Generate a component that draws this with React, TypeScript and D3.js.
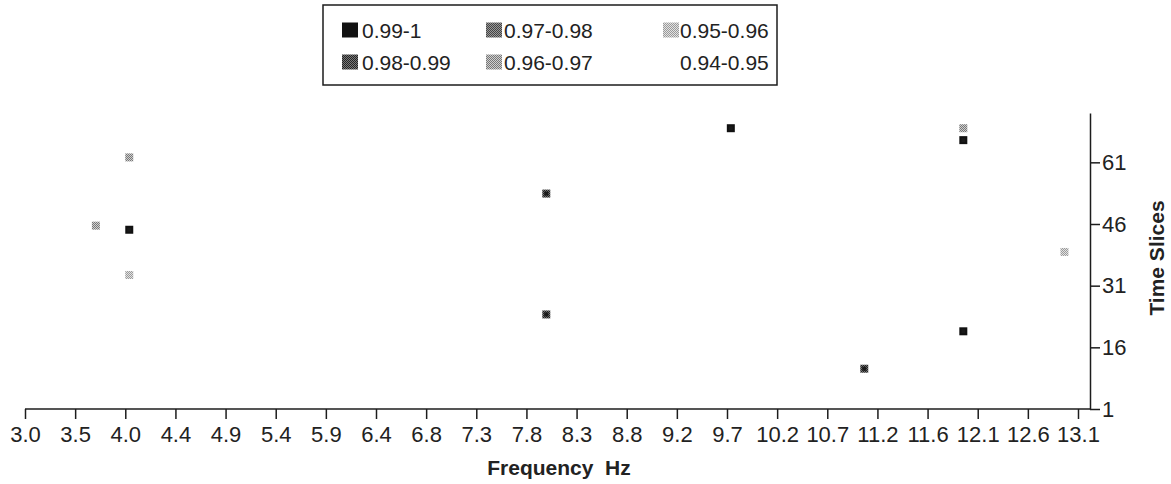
import React, { useRef, useEffect } from "react";
import * as d3 from "d3";

// tick labels as printed on the frequency axis
const freqTickLabels = [
  "3.0", "3.5", "4.0", "4.4", "4.9", "5.4", "5.9", "6.4", "6.8", "7.3", "7.8",
  "8.3", "8.8", "9.2", "9.7", "10.2", "10.7", "11.2", "11.6", "12.1", "12.6", "13.1",
];
const sliceTicks = [1, 16, 31, 46, 61];

const binLabels = ["0.99-1", "0.98-0.99", "0.97-0.98", "0.96-0.97", "0.95-0.96", "0.94-0.95"];

// points
const pointFreq = [3.68, 4.0, 4.0, 4.0, 8.0, 8.0, 9.77, 11.05, 12.0, 12.0, 12.0, 12.97];
const pointSlice = [45.6, 62.2, 44.6, 33.6, 53.4, 24.0, 69.3, 10.8, 19.9, 66.4, 69.3, 39.2];
const pointBin = [3, 3, 0, 4, 1, 1, 0, 1, 0, 0, 3, 4];

const binDark = ["#111", "#222", "#444", "#777", "#9a9a9a", "#fff"];
const binLight = ["#111", "#777", "#999", "#cfcfcf", "#e2e2e2", "#fff"];

const W = 1171;
const H = 484;
const FONT = "'Liberation Sans', Arial, sans-serif";

const Chart = () => {
  const ref = useRef<SVGSVGElement>(null);

  useEffect(() => {
    const svg = d3.select(ref.current);
    svg.selectAll("*").remove();

    const x0 = 25, x1 = 1078, axisX = 1090;
    const yBottom = 409, yTop = 113;

    const x = d3.scaleLinear().domain([3.0, 13.1]).range([x0, x1]);
    const xTicks = d3.scalePoint().domain(freqTickLabels).range([x0, x1]);
    const y = d3.scaleLinear().domain([1, 73]).range([yBottom, yTop]);

    // hatch patterns for the bins
    const defs = svg.append("defs");
    binLabels.forEach((_, i) => {
      const p = defs
        .append("pattern")
        .attr("id", `bin${i}`)
        .attr("patternUnits", "userSpaceOnUse")
        .attr("width", 2)
        .attr("height", 2);
      p.append("rect").attr("width", 2).attr("height", 2).attr("fill", binLight[i]);
      p.append("rect").attr("width", 1).attr("height", 1).attr("fill", binDark[i]);
      p.append("rect").attr("x", 1).attr("y", 1).attr("width", 1).attr("height", 1).attr("fill", binDark[i]);
    });

    svg.append("rect").attr("width", W).attr("height", H).attr("fill", "#fff");

    // x axis
    svg
      .append("line")
      .attr("x1", x0)
      .attr("x2", axisX)
      .attr("y1", yBottom)
      .attr("y2", yBottom)
      .attr("stroke", "#1c1c1c")
      .attr("stroke-width", 1.5);

    const gx = svg
      .append("g")
      .attr("transform", `translate(0,${yBottom})`)
      .call(d3.axisBottom(xTicks).tickSize(10).tickSizeOuter(0).tickPadding(7));
    gx.select(".domain").remove();
    gx.selectAll(".tick line").attr("stroke", "#1c1c1c").attr("stroke-width", 1.5);
    gx.selectAll("text")
      .style("font-family", FONT)
      .style("font-size", "22px")
      .attr("fill", "#222");

    // y axis on the right
    const gy = svg
      .append("g")
      .attr("transform", `translate(${axisX},0)`)
      .call(d3.axisRight(y).tickValues(sliceTicks).tickSize(10).tickSizeOuter(0).tickPadding(2));
    gy.select(".domain").attr("stroke", "#1c1c1c").attr("stroke-width", 1.5);
    gy.selectAll(".tick line").attr("stroke", "#1c1c1c").attr("stroke-width", 1.5);
    gy.selectAll("text")
      .style("font-family", FONT)
      .style("font-size", "22px")
      .attr("fill", "#222");

    // axis titles
    svg
      .append("text")
      .attr("x", 559)
      .attr("y", 475)
      .attr("text-anchor", "middle")
      .style("font-family", FONT)
      .style("font-size", "21px")
      .style("font-weight", "bold")
      .style("white-space", "pre")
      .attr("fill", "#222")
      .text("Frequency  Hz");

    svg
      .append("text")
      .attr("transform", `translate(1156,258) rotate(-90)`)
      .attr("text-anchor", "middle")
      .attr("dominant-baseline", "central")
      .style("font-family", FONT)
      .style("font-size", "21px")
      .style("font-weight", "bold")
      .attr("fill", "#222")
      .text("Time Slices");

    // points
    const pts = pointFreq.map((f, i) => ({ f, s: pointSlice[i], b: pointBin[i] }));
    svg
      .append("g")
      .selectAll("rect")
      .data(pts)
      .join("rect")
      .attr("x", (d) => x(d.f) - 4)
      .attr("y", (d) => y(d.s) - 4)
      .attr("width", 8)
      .attr("height", 8)
      .attr("fill", (d) => `url(#bin${d.b})`);
    svg
      .append("g")
      .selectAll("rect")
      .data(pts.filter((d) => d.b < 2))
      .join("rect")
      .attr("x", (d) => x(d.f) - 2)
      .attr("y", (d) => y(d.s) - 2)
      .attr("width", 4)
      .attr("height", 4)
      .attr("fill", "#1a1a1a");

    // legend
    const lg = svg.append("g");
    lg.append("rect")
      .attr("x", 323)
      .attr("y", 5)
      .attr("width", 454)
      .attr("height", 80)
      .attr("fill", "none")
      .attr("stroke", "#1c1c1c")
      .attr("stroke-width", 1.5);
    const swatchX = [342, 486, 663];
    const textX = [362, 504, 680];
    const rowY = [30, 62];
    binLabels.forEach((label, i) => {
      const col = Math.floor(i / 2);
      const row = i % 2;
      lg.append("rect")
        .attr("x", swatchX[col])
        .attr("y", rowY[row] - 7.5)
        .attr("width", 16)
        .attr("height", 15)
        .attr("fill", `url(#bin${i})`);
      lg.append("text")
        .attr("x", textX[col])
        .attr("y", rowY[row])
        .attr("dominant-baseline", "central")
        .style("font-family", FONT)
        .style("font-size", "21px")
        .attr("fill", "#222")
        .text(label);
    });
  }, []);

  return (
    <svg
      ref={ref}
      width={W}
      height={H}
      style={{ position: "absolute", left: 0, top: 0, display: "block" }}
    />
  );
};

export default function App() {
  return <Chart />;
}
